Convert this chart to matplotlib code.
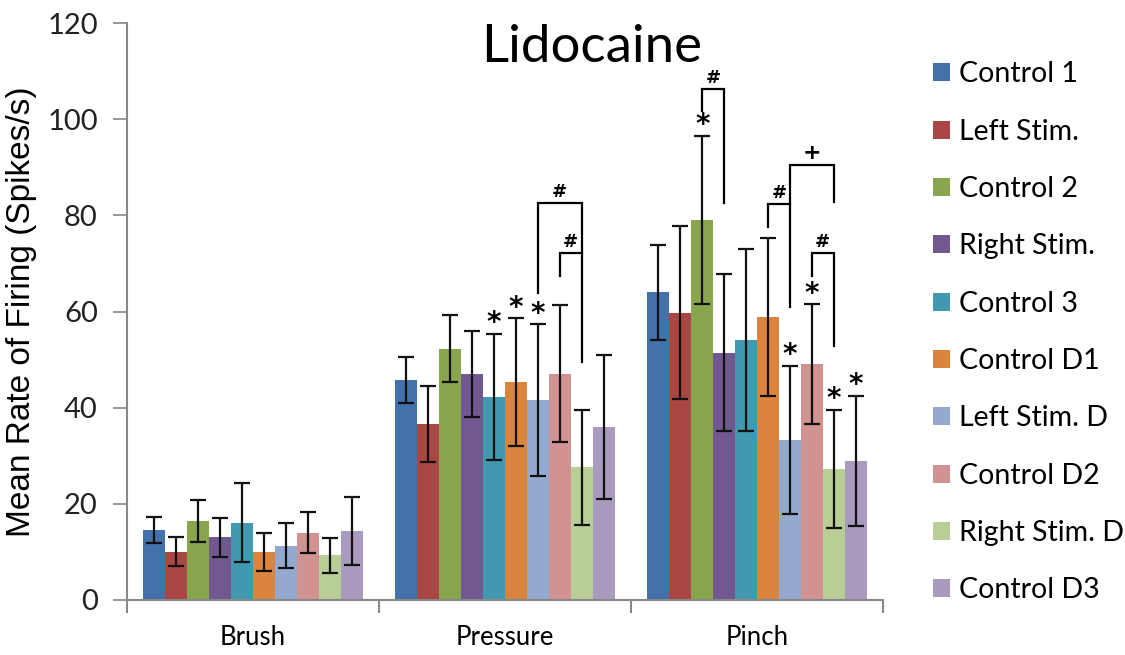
import numpy as np
import matplotlib
matplotlib.use("Agg")
import matplotlib.pyplot as plt

## Lidocaine firing rates per stimulus type
stimuli = ["Brush", "Pressure", "Pinch"]
groups = ["Control 1", "Left Stim.", "Control 2", "Right Stim.", "Control 3",
          "Control D1", "Left Stim. D", "Control D2", "Right Stim. D", "Control D3"]
colors = ["#4471AA", "#AA4644", "#89A54E", "#71588F", "#4198AF",
          "#DB843D", "#93A9CF", "#D19392", "#B9CD96", "#A99BBD"]

# mean values, one row per group: Brush, Pressure, Pinch
means = np.array([
    [14.5, 45.8, 64.0],
    [10.0, 36.7, 59.7],
    [16.5, 52.3, 79.0],
    [13.0, 47.0, 51.4],
    [16.1, 42.3, 54.1],
    [10.0, 45.3, 58.8],
    [11.3, 41.5, 33.3],
    [14.0, 47.1, 49.0],
    [ 9.3, 27.6, 27.3],
    [14.4, 36.0, 28.9],
])
errors = np.array([
    [2.7,  4.8,  9.9],
    [3.0,  7.9, 18.0],
    [4.4,  6.9, 17.5],
    [4.0,  8.9, 16.3],
    [8.2, 13.1, 18.9],
    [4.0, 13.3, 16.4],
    [4.7, 15.8, 15.4],
    [4.3, 14.2, 12.5],
    [3.6, 11.9, 12.3],
    [7.1, 15.0, 13.6],
])

# significance stars: (stimulus index, group index)
stars = [(1, 4), (1, 5), (1, 6), (2, 2), (2, 6), (2, 7), (2, 8), (2, 9)]
# brackets: (stimulus, left group, right group, left foot, top, right foot, label)
brackets = [
    (1, 6, 8, 63.8, 82.6, 49.5, "#"),
    (1, 7, 8, 67.4, 72.1, 72.1, "#"),
    (2, 2, 3, 101.6, 106.2, 82.5, "#"),
    (2, 6, 8, 61.0, 90.5, 82.7, "+"),
    (2, 5, 6, 77.6, 82.3, 82.3, "#"),
    (2, 7, 8, 67.4, 72.1, 52.9, "#"),
]

n = len(groups)
w = 1 / (n + 1.5)
x = np.arange(len(stimuli))

def bar_x(s, g):
    return x[s] + (g - (n - 1) / 2) * w

fig = plt.figure(figsize=(11.25, 6.55), dpi=100)
ax = fig.add_axes([127 / 1125, 1 - 600 / 655, 756 / 1125, 577 / 655])

for g in range(n):
    ax.bar(x + (g - (n - 1) / 2) * w, means[g], w, color=colors[g],
           label=groups[g], yerr=errors[g], capsize=5.5,
           error_kw=dict(ecolor="#111111", elinewidth=1.6, capthick=1.6))

for s, g in stars:
    ax.text(bar_x(s, g), means[g, s] + errors[g, s] + 2.2, "*", ha="center",
            va="center", fontsize=20, fontweight="bold", family="DejaVu Sans")

for s, g1, g2, y1, top, y2, lab in brackets:
    xa, xb = bar_x(s, g1), bar_x(s, g2)
    ax.plot([xa, xa, xb, xb], [y1, top, top, y2], color="black", lw=1.6,
            solid_joinstyle="miter")
    ax.text((xa + xb) / 2, top + 0.4, lab, ha="center", va="bottom",
            fontsize=16 if lab == "+" else 13, fontweight="bold",
            family="DejaVu Sans")

ax.set_xlim(-0.5, 2.5)
ax.set_ylim(0, 120)
ax.set_yticks(np.arange(0, 121, 20))
ax.set_xticks(x)
ax.set_xticklabels(stimuli, fontsize=18.5, family="Lato")
ax.set_xticks([-0.5, 0.5, 1.5, 2.5], minor=True)
ax.tick_params(axis="x", which="major", length=0, pad=18)
ax.tick_params(axis="x", which="minor", length=9, width=1.5, color="#888888")
ax.tick_params(axis="y", length=10, width=1.2, color="#888888", labelsize=21, pad=11)
for lab in ax.get_yticklabels():
    lab.set_family("Lato")
    lab.set_color("#222222")
for side in ["top", "right"]:
    ax.spines[side].set_visible(False)
for side in ["left", "bottom"]:
    ax.spines[side].set_color("#888888")
    ax.spines[side].set_linewidth(1.5)

ax.set_ylabel("Mean Rate of Firing (Spikes/s)", fontsize=24,
              family="Liberation Sans", labelpad=7)

fig.text(592 / 1125, 1 - 48 / 655, "Lidocaine", ha="center", va="center",
         fontsize=38, family="Lato")

ax.legend(loc="upper left", bbox_to_anchor=(922 / 1125, 1 - 50 / 655),
          bbox_transform=fig.transFigure, frameon=False,
          prop=dict(family="Lato", size=20.5), handlelength=0.6,
          handleheight=0.6, handletextpad=0.3, labelspacing=1.10,
          borderaxespad=0)

fig.savefig("out.png", dpi=100)
